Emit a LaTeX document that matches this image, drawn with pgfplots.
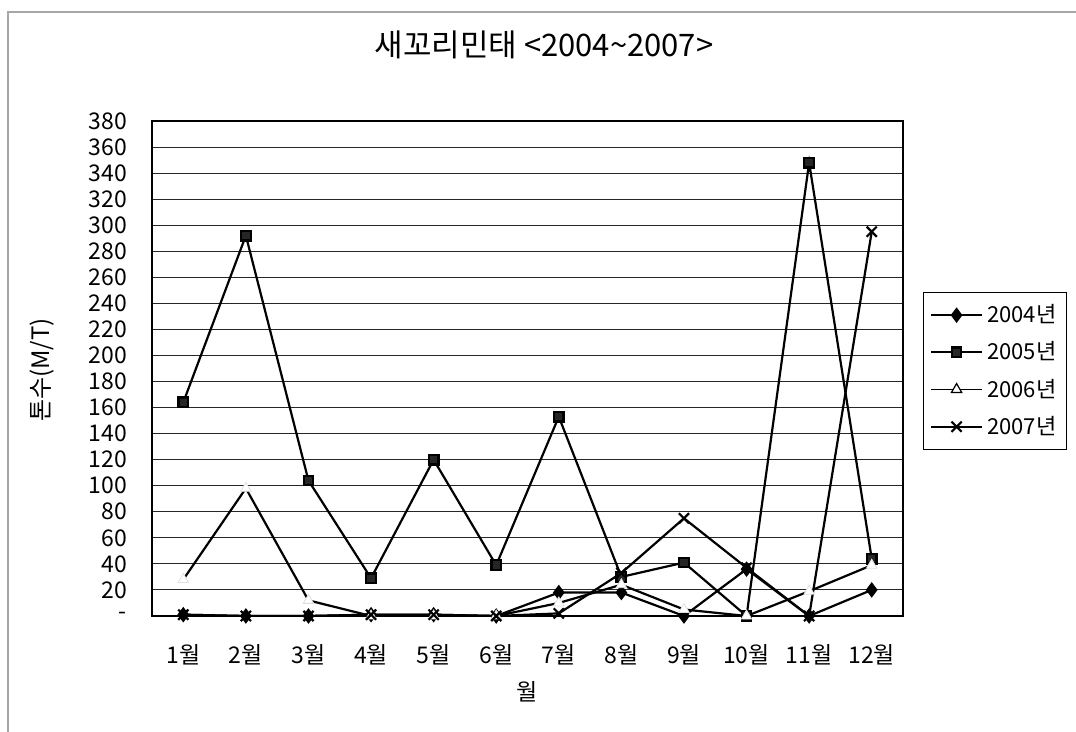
\documentclass[border=0pt]{standalone}
\usepackage{fontspec}
\setmainfont{Noto Sans CJK KR}
\usepackage{pgfplots}
\pgfplotsset{compat=1.18}
\pgfplotstableread{
m  a    b    c    d
1  1    164  28   1
2  0    292  98   0
3  0    104  12   0
4  1    29   0    1
5  1    120  0    1
6  0    39   0    0
7  18   153  10   2
8  18   30   24   33
9  0    41   5    75
10 36   0    0    37
11 0    348  19   0
12 20   44   39   295
}\datatable
\begin{document}
\begin{tikzpicture}[x=1pt,y=1pt]
\path[use as bounding box] (0,0) rectangle (538,366);
\draw[gray!70, line width=0.6pt] (4,0) -- (4,360) -- (538,360);
\node[font=\fontsize{15.5}{17}\selectfont] at (272,343.5) {새꼬리민태 <2004\textasciitilde2007>};
\node[rotate=90, font=\fontsize{12}{14}\selectfont] at (21,181) {톤수(M/T)};
\node[font=\fontsize{11.5}{13}\selectfont] at (263.5,20) {월};
\begin{axis}[
  at={(76pt,58pt)}, anchor=south west,
  scale only axis, width=375.5pt, height=247.5pt,
  xmin=0.5, xmax=12.5, ymin=0, ymax=380,
  axis line style={line width=0.9pt},
  ytick={0,20,...,380},
  yticklabels={-,20,40,60,80,100,120,140,160,180,200,220,240,260,280,300,320,340,360,380},
  major y tick style={draw=none},
  yticklabel style={xshift=-9pt, font=\fontsize{11.5}{12}\selectfont},
  xtick={1,...,12},
  xticklabels={1월,2월,3월,4월,5월,6월,7월,8월,9월,10월,11월,12월},
  major x tick style={draw=none},
  xticklabel style={yshift=-10.5pt, font=\fontsize{11.5}{12}\selectfont},
  extra x ticks={1.5,2.5,...,11.5},
  extra x tick labels={},
  extra x tick style={grid=none, tick align=inside, major tick length=4pt, major tick style={draw=black, line width=0.5pt}},
  ymajorgrids, grid style={black!85, line width=0.5pt},
  legend image code/.code={\draw[mark repeat=2,mark phase=2,#1] plot coordinates {(0cm,0cm)(0.45cm,0cm)(0.9cm,0cm)};},
  legend style={at={(1.027,0.6545)}, anchor=north west, draw=black, line width=0.6pt,
    font=\fontsize{11}{12}\selectfont, row sep=4pt, inner ysep=4pt, inner xsep=3pt},
  legend cell align=left,
]
\addplot[black, line width=1.1pt, mark=diamond*, mark size=3pt, mark options={fill=black}, forget plot] table[x=m,y=a]{\datatable};
\addplot[black, line width=1.1pt, mark=square*, mark size=2.4pt, mark options={fill=black!85}, forget plot] table[x=m,y=b]{\datatable};
\addplot[black, line width=1.1pt, mark=triangle*, mark size=3pt, mark options={fill=white, draw=gray!25, line width=0.4pt}, forget plot] table[x=m,y=c]{\datatable};
\addplot[black, line width=1.1pt, mark=x, mark size=3.6pt, forget plot] table[x=m,y=d]{\datatable};
\addlegendimage{black, line width=1.1pt, mark=diamond*, mark size=3pt, mark options={fill=black}}
\addlegendentry{2004년}
\addlegendimage{black, line width=1.1pt, mark=square*, mark size=2.4pt, mark options={fill=black!85}}
\addlegendentry{2005년}
\addlegendimage{black, line width=0.8pt, mark=triangle*, mark size=3pt, mark options={fill=white, draw=black, line width=0.6pt}}
\addlegendentry{2006년}
\addlegendimage{black, line width=1.1pt, mark=x, mark size=3.6pt}
\addlegendentry{2007년}
\end{axis}
\end{tikzpicture}
\end{document}
